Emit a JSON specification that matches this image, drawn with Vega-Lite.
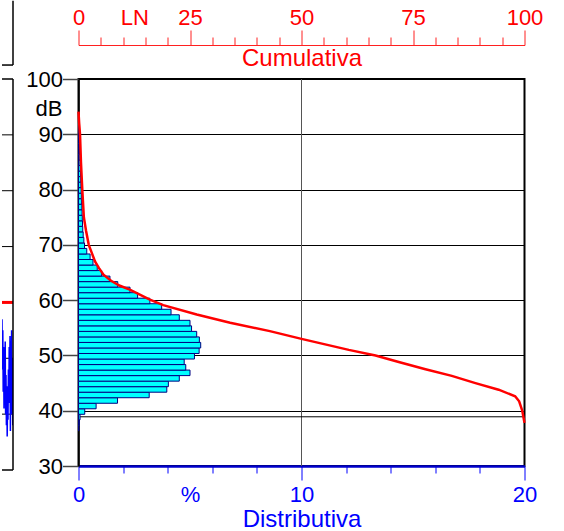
{
  "$schema": "https://vega.github.io/schema/vega-lite/v6.json",
  "padding": {"top": 0, "left": 0, "right": 0, "bottom": 0},
  "config": {"font": "Liberation Sans", "view": {"stroke": null}},
  "spacing": 9.5,
  "hconcat": [
    {
      "width": 11,
      "height": 391,
      "view": {"stroke": null},
      "layer": [
        {
          "data": {"values": [
            {"x": 0, "x2": 11, "y": 40, "y2": 40},
            {"x": 0, "x2": 11, "y": 50, "y2": 50},
            {"x": 0, "x2": 11, "y": 70, "y2": 70},
            {"x": 0, "x2": 11, "y": 80, "y2": 80},
            {"x": 0, "x2": 11, "y": 90, "y2": 90}
          ]},
          "mark": {"type": "rule", "color": "#000", "strokeWidth": 1},
          "encoding": {
            "x": {"field": "x", "type": "quantitative", "scale": {"domain": [0, 11], "nice": false}, "axis": null},
            "x2": {"field": "x2"},
            "y": {"field": "y", "type": "quantitative", "scale": {"domain": [30, 100], "nice": false}, "axis": null},
            "y2": {"field": "y2"}
          }
        },
        {
          "data": {"values": [
            {"t": 0, "db": 57}, {"t": 0.4, "db": 48}, {"t": 0.8, "db": 55}, {"t": 1.2, "db": 44},
            {"t": 1.6, "db": 52}, {"t": 2.0, "db": 41}, {"t": 2.4, "db": 50}, {"t": 2.8, "db": 46},
            {"t": 3.2, "db": 53}, {"t": 3.6, "db": 40}, {"t": 4.0, "db": 47}, {"t": 4.4, "db": 38},
            {"t": 4.8, "db": 45}, {"t": 5.2, "db": 36}, {"t": 5.6, "db": 43}, {"t": 6.0, "db": 39},
            {"t": 6.4, "db": 48}, {"t": 6.8, "db": 42}, {"t": 7.2, "db": 52}, {"t": 7.6, "db": 44},
            {"t": 8.0, "db": 54}, {"t": 8.4, "db": 37}, {"t": 8.8, "db": 47}, {"t": 9.2, "db": 40},
            {"t": 9.6, "db": 55}, {"t": 10.0, "db": 43}, {"t": 10.4, "db": 50}, {"t": 10.8, "db": 38}
          ]},
          "mark": {"type": "line", "color": "#0000ff", "strokeWidth": 1.5, "strokeJoin": "bevel", "clip": true},
          "encoding": {
            "x": {"field": "t", "type": "quantitative"},
            "y": {"field": "db", "type": "quantitative"}
          }
        },
        {
          "data": {"values": [{"x": 0, "x2": 11, "y": 60, "y2": 60}]},
          "mark": {"type": "rule", "color": "#ff0000", "strokeWidth": 3},
          "encoding": {
            "x": {"field": "x", "type": "quantitative"},
            "x2": {"field": "x2"},
            "y": {"field": "y", "type": "quantitative"},
            "y2": {"field": "y2"}
          }
        },
        {
          "data": {"values": [
            {"x": 11, "x2": 11, "y": 30, "y2": 100},
            {"x": 0, "x2": 11, "y": 100, "y2": 100},
            {"x": 0, "x2": 11, "y": 30, "y2": 30},
            {"x": 11, "x2": 11, "y": 102.5, "y2": 114},
            {"x": 0, "x2": 11, "y": 102.5, "y2": 102.5}
          ]},
          "mark": {"type": "rule", "color": "#000", "strokeWidth": 1.5},
          "encoding": {
            "x": {"field": "x", "type": "quantitative"},
            "x2": {"field": "x2"},
            "y": {"field": "y", "type": "quantitative"},
            "y2": {"field": "y2"}
          }
        }
      ]
    },
    {
      "width": 446,
      "height": 387,
      "view": {"stroke": "#000", "strokeWidth": 2},
      "layer": [
        {
          "layer": [
            {
              "data": {"values": [{"pct": 10}]},
              "mark": {"type": "rule", "color": "#555", "strokeWidth": 1},
              "encoding": {"x": {"field": "pct", "type": "quantitative"}}
            },
            {
              "data": {"values": [{"lo": 38.9}]},
              "mark": {"type": "rule", "color": "#000", "strokeWidth": 1},
              "encoding": {"y": {"field": "lo", "type": "quantitative", "title": "dB"}}
            },
            {
              "data": {"values": [
                {"lo": 36.35, "hi": 37.35, "pct": 0.02},
                {"lo": 37.35, "hi": 38.35, "pct": 0.04},
                {"lo": 38.35, "hi": 39.35, "pct": 0.07},
                {"lo": 39.35, "hi": 40.35, "pct": 0.28},
                {"lo": 40.35, "hi": 41.35, "pct": 0.79},
                {"lo": 41.35, "hi": 42.35, "pct": 1.75},
                {"lo": 42.35, "hi": 43.35, "pct": 3.17},
                {"lo": 43.35, "hi": 44.35, "pct": 3.96},
                {"lo": 44.35, "hi": 45.35, "pct": 4.03},
                {"lo": 45.35, "hi": 46.35, "pct": 4.52},
                {"lo": 46.35, "hi": 47.35, "pct": 5.0},
                {"lo": 47.35, "hi": 48.35, "pct": 4.81},
                {"lo": 48.35, "hi": 49.35, "pct": 4.74},
                {"lo": 49.35, "hi": 50.35, "pct": 5.2},
                {"lo": 50.35, "hi": 51.35, "pct": 5.41},
                {"lo": 51.35, "hi": 52.35, "pct": 5.48},
                {"lo": 52.35, "hi": 53.35, "pct": 5.42},
                {"lo": 53.35, "hi": 54.35, "pct": 5.3},
                {"lo": 54.35, "hi": 55.35, "pct": 5.07},
                {"lo": 55.35, "hi": 56.35, "pct": 5.0},
                {"lo": 56.35, "hi": 57.35, "pct": 4.52},
                {"lo": 57.35, "hi": 58.35, "pct": 4.15},
                {"lo": 58.35, "hi": 59.35, "pct": 3.73},
                {"lo": 59.35, "hi": 60.35, "pct": 3.2},
                {"lo": 60.35, "hi": 61.35, "pct": 2.65},
                {"lo": 61.35, "hi": 62.35, "pct": 2.31},
                {"lo": 62.35, "hi": 63.35, "pct": 1.76},
                {"lo": 63.35, "hi": 64.35, "pct": 1.41},
                {"lo": 64.35, "hi": 65.35, "pct": 1.04},
                {"lo": 65.35, "hi": 66.35, "pct": 0.84},
                {"lo": 66.35, "hi": 67.35, "pct": 0.65},
                {"lo": 67.35, "hi": 68.35, "pct": 0.52},
                {"lo": 68.35, "hi": 69.35, "pct": 0.37},
                {"lo": 69.35, "hi": 70.35, "pct": 0.27},
                {"lo": 70.35, "hi": 71.35, "pct": 0.24},
                {"lo": 71.35, "hi": 72.35, "pct": 0.21},
                {"lo": 72.35, "hi": 73.35, "pct": 0.19},
                {"lo": 73.35, "hi": 74.35, "pct": 0.18},
                {"lo": 74.35, "hi": 75.35, "pct": 0.17},
                {"lo": 75.35, "hi": 76.35, "pct": 0.16},
                {"lo": 76.35, "hi": 77.35, "pct": 0.15},
                {"lo": 77.35, "hi": 78.35, "pct": 0.14},
                {"lo": 78.35, "hi": 79.35, "pct": 0.13},
                {"lo": 79.35, "hi": 80.35, "pct": 0.12},
                {"lo": 80.35, "hi": 81.35, "pct": 0.11},
                {"lo": 81.35, "hi": 82.35, "pct": 0.1},
                {"lo": 82.35, "hi": 83.35, "pct": 0.09},
                {"lo": 83.35, "hi": 84.35, "pct": 0.08},
                {"lo": 84.35, "hi": 85.35, "pct": 0.07},
                {"lo": 85.35, "hi": 86.35, "pct": 0.06},
                {"lo": 86.35, "hi": 87.35, "pct": 0.05},
                {"lo": 87.35, "hi": 88.35, "pct": 0.04},
                {"lo": 88.35, "hi": 89.35, "pct": 0.03},
                {"lo": 89.35, "hi": 90.35, "pct": 0.02},
                {"lo": 90.35, "hi": 91.35, "pct": 0.02},
                {"lo": 91.35, "hi": 92.35, "pct": 0.01}
              ]},
              "mark": {"type": "rect", "fill": "#00ffff", "stroke": "#000080", "strokeWidth": 1},
              "encoding": {
                "y": {
                  "field": "lo", "type": "quantitative",
                  "scale": {"domain": [30, 100], "nice": false, "zero": false},
                  "axis": {
                    "values": [30, 40, 50, 60, 70, 80, 90, 100],
                    "grid": true, "gridColor": "#000", "gridWidth": 1,
                    "domain": true, "domainColor": "#000", "domainWidth": 1.5,
                    "tickColor": "#444", "tickSize": 16, "tickWidth": 1.5,
                    "labelFontSize": 22, "labelColor": "#000", "labelPadding": 0,
                    "title": "dB", "titleAngle": 0, "titleFontSize": 22, "titleFontWeight": "normal",
                    "titleColor": "#000", "titleAlign": "right", "titleBaseline": "middle",
                    "titleX": -16.5, "titleY": 29
                  }
                },
                "y2": {"field": "hi"},
                "x": {
                  "field": "pct", "type": "quantitative",
                  "scale": {"domain": [0, 20], "nice": false},
                  "axis": {
                    "orient": "bottom",
                    "values": [0, 2, 4, 5, 6, 8, 10, 12, 14, 16, 18, 20],
                    "labelExpr": "datum.value == 5 ? '%' : (datum.value % 10 == 0 ? datum.label : '')",
                    "labelFlush": false, "labelOverlap": false, "labelBound": false,
                    "labelColor": "#0000ff", "labelFontSize": 22,
                    "labelPadding": {"condition": {"test": "datum.value % 10 == 0", "value": 4}, "value": 11},
                    "tickColor": "#0000ff", "tickWidth": 1,
                    "tickSize": {"condition": {"test": "datum.value % 10 == 0", "value": 14}, "value": 7},
                    "tickOpacity": {"condition": {"test": "datum.value == 5", "value": 0}, "value": 1},
                    "domainColor": "#0000cc", "domainWidth": 2.5,
                    "grid": false,
                    "title": "Distributiva", "titleColor": "#0000ff", "titleFontSize": 24,
                    "titleFontWeight": "normal", "titleBaseline": "alphabetic", "titleY": 60
                  }
                },
                "x2": {"datum": 0}
              }
            }
          ]
        },
        {
          "data": {"values": [
            {"cum": 0, "db": 94.1}, {"cum": 0.15, "db": 92}, {"cum": 0.34, "db": 90},
            {"cum": 0.55, "db": 85}, {"cum": 0.85, "db": 80}, {"cum": 1.2, "db": 75},
            {"cum": 1.7, "db": 72.5}, {"cum": 2.3, "db": 70}, {"cum": 3.0, "db": 68.5},
            {"cum": 3.7, "db": 67.0}, {"cum": 4.6, "db": 65.8}, {"cum": 5.6, "db": 64.6},
            {"cum": 7.3, "db": 63.5}, {"cum": 9.3, "db": 62.6}, {"cum": 11.5, "db": 61.9},
            {"cum": 16.0, "db": 60.1}, {"cum": 19.0, "db": 59.1}, {"cum": 26.5, "db": 57.4},
            {"cum": 34.0, "db": 55.9}, {"cum": 42.9, "db": 54.4}, {"cum": 50.0, "db": 53.0},
            {"cum": 55.3, "db": 52.0},
            {"cum": 60.6, "db": 51.0}, {"cum": 66.6, "db": 50.0}, {"cum": 71.8, "db": 48.8},
            {"cum": 77.8, "db": 47.5}, {"cum": 83.7, "db": 46.3}, {"cum": 89, "db": 45.0},
            {"cum": 94.2, "db": 43.8}, {"cum": 97.9, "db": 42.6}, {"cum": 98.8, "db": 41.7},
            {"cum": 99.5, "db": 40.0}, {"cum": 100, "db": 37.8}
          ]},
          "mark": {"type": "line", "color": "#ff0000", "strokeWidth": 2.5},
          "encoding": {
            "x": {
              "field": "cum", "type": "quantitative",
              "scale": {"domain": [0, 100], "nice": false},
              "axis": {
                "orient": "top", "offset": 34,
                "values": [0, 5, 10, 12.5, 15, 20, 25, 30, 35, 40, 45, 50, 55, 60, 65, 70, 75, 80, 85, 90, 95, 100],
                "labelExpr": "datum.value == 12.5 ? 'LN' : (datum.value % 25 == 0 ? datum.label : '')",
                "labelFlush": false, "labelOverlap": false, "labelBound": false,
                "labelColor": "#ff0000", "labelFontSize": 22,
                "labelPadding": {"condition": {"test": "datum.value % 25 == 0", "value": 1}, "value": 8},
                "tickColor": "#ff2020", "tickWidth": 1,
                "tickSize": {"condition": {"test": "datum.value % 25 == 0", "value": 15}, "value": 8},
                "tickOpacity": {"condition": {"test": "datum.value == 12.5", "value": 0}, "value": 1},
                "domainColor": "#ff2020", "domainWidth": 1,
                "grid": false,
                "title": "Cumulativa", "titleColor": "#ff0000", "titleFontSize": 24,
                "titleFontWeight": "normal", "titleBaseline": "alphabetic", "titleY": 20.5
              }
            },
            "y": {"field": "db", "type": "quantitative", "title": "dB"}
          }
        }
      ],
      "resolve": {"scale": {"x": "independent"}}
    }
  ]
}
